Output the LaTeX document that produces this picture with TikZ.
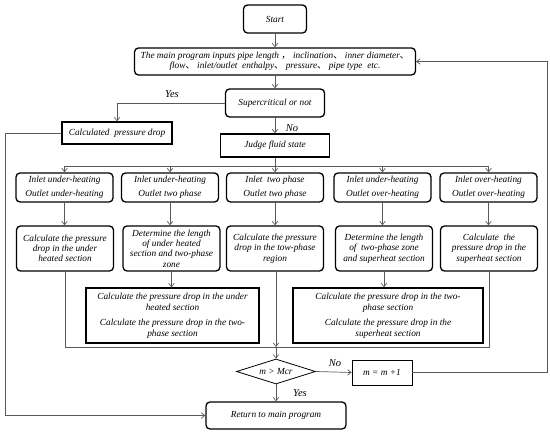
\documentclass[tikz,border=0pt]{standalone}
\usepackage{fontspec}
\setmainfont{Liberation Serif}
\newfontfamily\cjk{Noto Sans CJK SC}
\usetikzlibrary{arrows.meta,shapes.geometric}
\newcommand\fs{\itshape\fontsize{9.3}{10.3}\selectfont}
\newcommand\cc[1]{{\cjk\upshape #1}}
\tikzset{
  rbox/.style={draw, line width=1.3pt, rounded corners=4pt, inner sep=1pt, align=center, font=\fs},
  sbox/.style={draw, line width=1.3pt, inner sep=1pt, align=center, font=\fs},
  tbox/.style={draw, line width=0.8pt, inner sep=1pt, align=center, font=\fs},
  arr/.style={draw=black!65, line width=0.7pt, -{Straight Barb[length=3.5pt,width=5.5pt]}},
  ln/.style={draw=black!65, line width=0.7pt},
  lbl/.style={font=\itshape\fontsize{10.5}{12}\selectfont, inner sep=0pt},
}
\begin{document}
\begin{tikzpicture}[x=1pt,y=-1pt]
\useasboundingbox (0,0) rectangle (550,435);
% top column
\node[rbox, minimum width=63pt, minimum height=28pt] (start) at (275,19) {Start};
\node[rbox, minimum width=281pt, minimum height=27pt] (main) at (275,61.5)
  {The main program inputs pipe length \cc{，} inclination\cc{、} inner diameter\cc{、}\\
   flow\cc{、} inlet/outlet\ \ enthalpy\cc{、} pressure\cc{、} pipe type\ \ etc.};
\node[rbox, minimum width=99pt, minimum height=28pt] (super) at (275,103) {Supercritical or not};
\node[sbox, minimum width=110pt, minimum height=22pt] (calc) at (117,133) {Calculated\ \ pressure drop};
\node[sbox, minimum width=109pt, minimum height=23pt] (judge) at (275,145.5) {Judge fluid state};
% row 1
\tikzset{r1/.style={rbox, minimum width=97pt, minimum height=29pt, font=\itshape\fontsize{9.3}{14}\selectfont}}
\node[r1] (r1a) at (64.5,187.5) {Inlet under-heating\\Outlet under-heating};
\node[r1] (r1b) at (170,187.5) {Inlet under-heating\\Outlet two phase};
\node[r1] (r1c) at (275,187.5) {Inlet\ \ two phase\\Outlet two phase};
\node[r1] (r1d) at (382.5,187.5) {Inlet under-heating\\Outlet over-heating};
\node[r1] (r1e) at (488.5,187.5) {Inlet over-heating\\Outlet over-heating};
% row 2
\tikzset{r2/.style={rbox, minimum width=97pt, minimum height=45pt}}
\node[r2] (r2a) at (65,248.5) {Calculate the pressure\\drop in the under\\heated section};
\node[r2] (r2b) at (171.5,248.5) {Determine the length\\of under heated\\section and two-phase\\zone};
\node[r2] (r2c) at (275,248.5) {Calculate the pressure\\drop in the tow-phase\\region};
\node[r2] (r2d) at (384,248.5) {Determine the length\\of\ \ two-phase zone\\and superheat section};
\node[r2] (r2e) at (489,248.5) {Calculate\ \ the\\pressure drop in the\\superheat section};
% row 3
\node[sbox, minimum width=173pt, minimum height=55pt, font=\itshape\fontsize{9.3}{11}\selectfont] (r3l) at (172.5,315.5)
  {Calculate the pressure drop in the under\\heated section\\[4pt]Calculate the pressure drop in the two-\\phase section};
\node[sbox, minimum width=190pt, minimum height=55pt, font=\itshape\fontsize{9.3}{11}\selectfont] (r3r) at (388,315.5)
  {Calculate the pressure drop in the two-\\phase section\\[4pt]Calculate the pressure drop in the\\superheat section};
% bottom
\node[draw, line width=0.8pt, shape=diamond, aspect=3.2, inner sep=0pt, minimum width=79pt, minimum height=25pt, font=\fs] (dia) at (276,371.5) {m > Mcr};
\node[tbox, minimum width=60pt, minimum height=25pt] (mbox) at (382,372.5) {m = m +1};
\node[rbox, minimum width=140pt, minimum height=27pt] (ret) at (276,415.5) {Return to main program};
% coordinates
\coordinate (hub) at (275,166);
\coordinate (colC) at (276,347);
\coordinate (lx) at (5,0);
\coordinate (rx) at (547,0);
% connectors
\draw[arr] (start) -- (main);
\draw[arr] (main) -- (super);
\draw[arr] (super.west) -| (calc.north);
\node[lbl] (yes1) at (172,94) {Yes};
\draw[arr] (super) -- (judge);
\node[lbl] (no1) at (292,128) {No};
\draw[ln] (judge.south) -- (hub);
\draw[arr] (hub) -| (r1a.north);
\draw[arr] (hub) -| (r1b.north);
\draw[arr] (hub) -- (r1c.north);
\draw[arr] (hub) -| (r1d.north);
\draw[arr] (hub) -| (r1e.north);
\draw[arr] (r1a.south) -- (r1a.south |- r2a.north);
\draw[arr] (r1b.south) -- (r1b.south |- r2b.north);
\draw[arr] (r1c.south) -- (r1c.south |- r2c.north);
\draw[arr] (r1d.south) -- (r1d.south |- r2d.north);
\draw[arr] (r1e.south) -- (r1e.south |- r2e.north);
\draw[arr] (r2b.south) -- (r2b.south |- r3l.north);
\draw[arr] (r2d.south) -- (r2d.south |- r3r.north);
\draw[ln] (r2a.south) |- (r2e.south |- colC) -- (r2e.south);
\draw[arr] (r2c.south -| colC) -- (colC);
\draw[arr] (colC) -- (dia.north);
\draw[arr] (dia.east) -- (mbox.west);
\node[lbl] (no2) at (335,363) {No};
\draw[arr] (mbox.east) -| (rx |- main.east) -- (main.east);
\draw[arr] (dia.south) -- (ret.north);
\node[lbl] (yes2) at (300,393) {Yes};
\draw[arr] (calc.west) -| (lx |- ret.west) -- (ret.west);
\end{tikzpicture}
\end{document}
